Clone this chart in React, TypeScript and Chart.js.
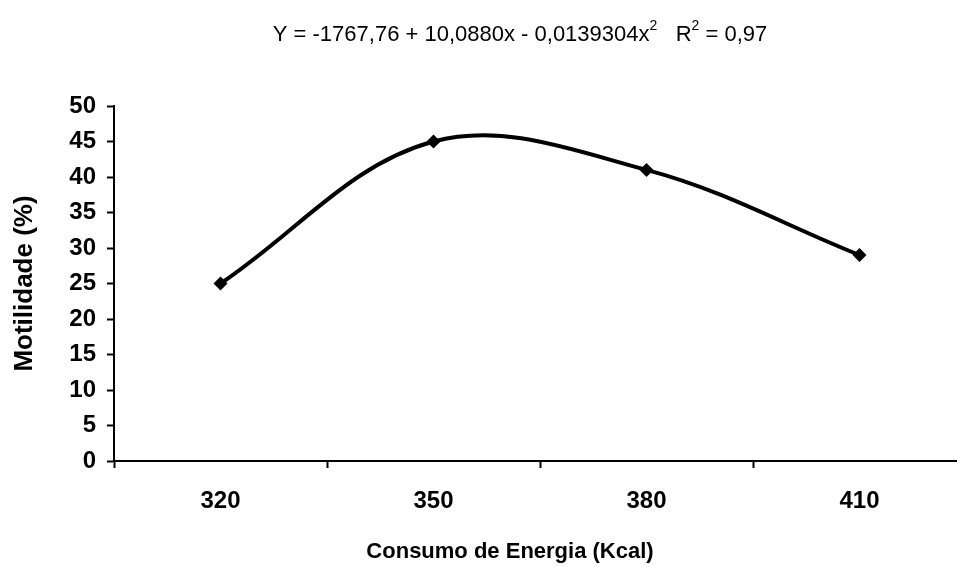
import React, { useEffect, useRef } from "react";
import { Chart, registerables } from "chart.js";

Chart.register(...registerables);

const categories = ["320", "350", "380", "410"];
const motilidade = [25, 45, 41, 29];
const yTicks = [0, 5, 10, 15, 20, 25, 30, 35, 40, 45, 50];
const eqMain = "Y = -1767,76 + 10,0880x - 0,0139304x";
const eqR = "R";
const eqTail = " = 0,97";
const xTitle = "Consumo de Energia (Kcal)";
const yTitle = "Motilidade (%)";

const FONT = "'Liberation Sans', Arial, Helvetica, sans-serif";

const textPlugin = {
  id: "texts",
  afterDraw(chart: any) {
    const ctx = chart.ctx;
    ctx.save();
    ctx.fillStyle = "#000";
    ctx.textBaseline = "alphabetic";
    const big = `22px ${FONT}`;
    const small = `14px ${FONT}`;
    const gap = "   ";
    ctx.font = big;
    const w1 = ctx.measureText(eqMain).width;
    const wGap = ctx.measureText(gap).width;
    const wR = ctx.measureText(eqR).width;
    const wT = ctx.measureText(eqTail).width;
    ctx.font = small;
    const wS = ctx.measureText("2").width;
    const total = w1 + wS + wGap + wR + wS + wT;
    let x = 520 - total / 2;
    const y = 41;
    ctx.textAlign = "left";
    ctx.font = big;
    ctx.fillText(eqMain, x, y);
    x += w1;
    ctx.font = small;
    ctx.fillText("2", x, y - 11);
    x += wS + wGap;
    ctx.font = big;
    ctx.fillText(eqR, x, y);
    x += wR;
    ctx.font = small;
    ctx.fillText("2", x, y - 11);
    x += wS;
    ctx.font = big;
    ctx.fillText(eqTail, x, y);

    // x-axis title
    ctx.font = `bold 22px ${FONT}`;
    ctx.textAlign = "center";
    ctx.textBaseline = "middle";
    ctx.fillText(xTitle, 510, 552);
    ctx.restore();
  },
};

export default function App() {
  const ref = useRef<HTMLCanvasElement>(null);
  useEffect(() => {
    document.body.style.margin = "0";
    const canvas = ref.current!;
    const chart = new Chart(canvas, {
      type: "line",
      data: {
        labels: categories,
        datasets: [
          {
            data: motilidade,
            borderColor: "#000",
            backgroundColor: "#000",
            borderWidth: 4,
            tension: 0.36,
            pointStyle: "rectRot",
            pointRadius: 7,
            pointBorderWidth: 0,
            pointBackgroundColor: "#000",
            fill: false,
          },
        ],
      },
      options: {
        animation: false,
        responsive: false,
        devicePixelRatio: 1,
        layout: { padding: { left: 0, top: 106, right: 9, bottom: 0 } },
        plugins: {
          legend: { display: false },
          tooltip: { enabled: false },
        },
        scales: {
          x: {
            type: "category",
            offset: true,
            grid: {
              offset: true,
              drawOnChartArea: false,
              drawTicks: true,
              tickLength: 7,
              tickWidth: 2,
              color: "#000",
            },
            border: { color: "#000", width: 2 },
            ticks: {
              color: "#000",
              padding: 19,
              font: { family: FONT, size: 24, weight: "bold" },
            },
            afterFit(scale: any) {
              scale.height = 106;
            },
          },
          y: {
            min: 0,
            max: 50,
            afterBuildTicks(scale: any) {
              scale.ticks = yTicks.map((v) => ({ value: v }));
            },
            grid: {
              drawOnChartArea: false,
              drawTicks: true,
              tickLength: 7,
              tickWidth: 2,
              color: "#000",
            },
            border: { color: "#000", width: 2 },
            ticks: {
              color: "#000",
              padding: 11,
              font: { family: FONT, size: 24, weight: "bold" },
            },
            title: {
              display: true,
              text: yTitle,
              color: "#000",
              font: { family: FONT, size: 26, weight: "bold" },
              padding: { top: 9, bottom: 0 },
            },
            afterFit(scale: any) {
              scale.width = 114;
            },
          },
        },
      },
      plugins: [textPlugin],
    });
    return () => chart.destroy();
  }, []);
  return (
    <div
      style={{
        position: "fixed",
        left: 0,
        top: 0,
        width: 957,
        height: 567,
        overflow: "hidden",
        background: "#fff",
      }}
    >
      <canvas ref={ref} width={975} height={567} style={{ width: 975, height: 567 }} />
    </div>
  );
}
